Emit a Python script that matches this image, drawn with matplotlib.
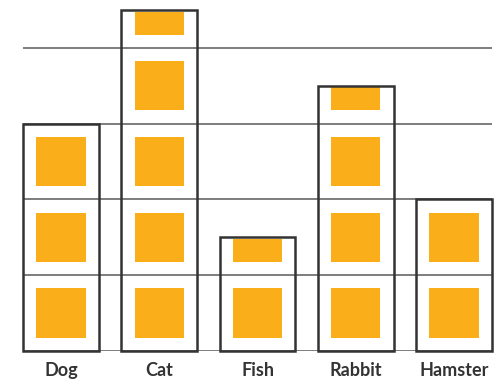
import matplotlib
matplotlib.use("Agg")
import matplotlib.pyplot as plt
from matplotlib.patches import Rectangle
import math

# pets and how many symbols each one gets (one square = one unit)
pets = ['Dog', 'Cat', 'Fish', 'Rabbit', 'Hamster']
counts = [3, 4.5, 1.5, 3.5, 2]
grid_levels = [0, 1, 2, 3, 4]

orange = '#F9AE1A'
dark = '#333333'

fig = plt.figure(figsize=(5, 3.8), dpi=100)
# axes placed in pixels: x 23..492, y baseline 351 .. top 10
ax = fig.add_axes([23 / 500, (380 - 351) / 380, (492 - 23) / 500, (351 - 10) / 380])

bar_w = 0.773
ax.set_xlim(-bar_w / 2, len(pets) - 1 + bar_w / 2)
ax.set_ylim(0, 4.5)

# pixel size of one unit in x and y, to keep the squares square
px_x = (492 - 23) / (len(pets) - 1 + bar_w)
px_y = (351 - 10) / 4.5
sq_h = 0.65
sq_w = sq_h * px_y / px_x

for lvl in grid_levels:
    ax.axhline(lvl, color='#5a5a5a', lw=1.1, zorder=1)

for i, v in enumerate(counts):
    for u in range(math.ceil(v)):
        y0 = u + (1 - sq_h) / 2
        y1 = min(y0 + sq_h, v - 0.02)
        ax.add_patch(Rectangle((i - sq_w / 2, y0), sq_w, y1 - y0,
                               facecolor=orange, edgecolor='none', zorder=2))
    ax.add_patch(Rectangle((i - bar_w / 2, 0), bar_w, v, facecolor='none',
                           edgecolor=dark, lw=1.8, zorder=3, clip_on=False))

ax.set_xticks(range(len(pets)))
ax.set_xticklabels(pets, fontsize=13, fontweight='bold', color=dark, family='Lato')
ax.tick_params(axis='x', length=0, pad=8)
ax.set_yticks([])
for s in ax.spines.values():
    s.set_visible(False)

plt.savefig('out.png', dpi=100)
